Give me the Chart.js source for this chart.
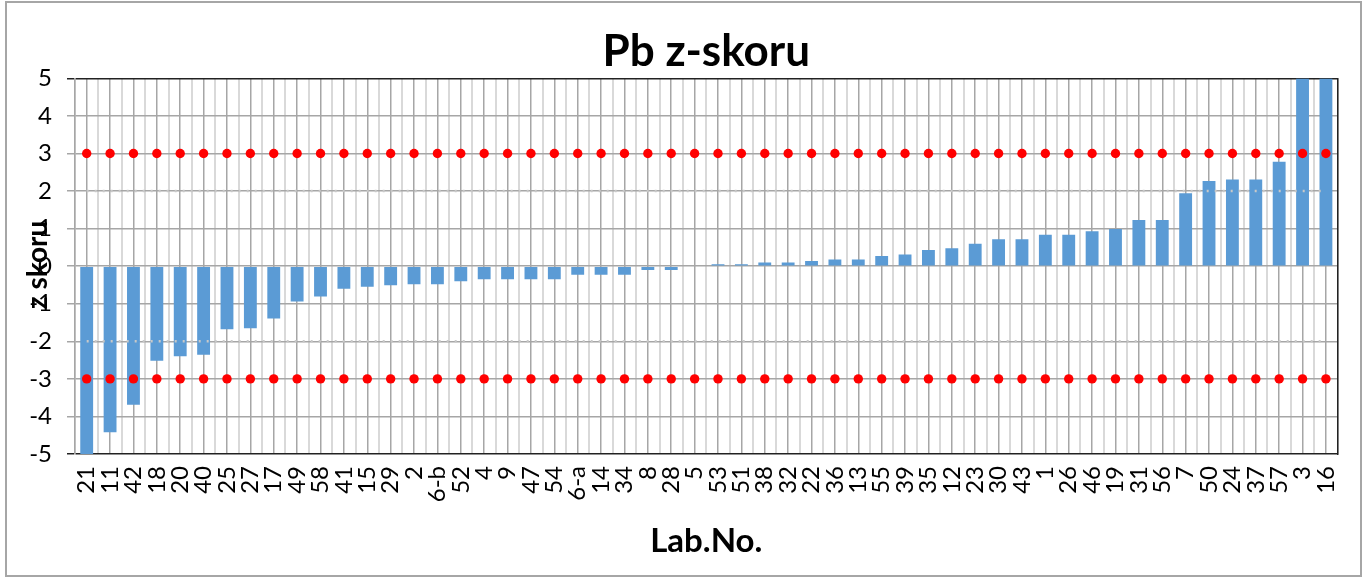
<!DOCTYPE html>
<html>
<head>
<meta charset="utf-8">
<script src="https://cdn.jsdelivr.net/npm/chart.js@4/dist/chart.umd.min.js"></script>
<style>
  html, body { margin: 0; padding: 0; background: #fff; }
  #wrap { position: relative; width: 1367px; height: 582px; }
</style>
</head>
<body>
<div id="wrap"><canvas id="grafico"></canvas></div>
<script>
// laboratuvar numaralari (sirali)
const labNo = ["21","11","42","18","20","40","25","27","17","49","58","41","15","29","2","6-b","52","4","9","47",
  "54","6-a","14","34","8","28","5","53","51","38","32","22","36","13","55","39","35","12","23","30",
  "43","1","26","46","19","31","56","7","50","24","37","57","3","16"];

// Pb z-skoru degerleri
const zSkor = [-5, -4.42, -3.69, -2.52, -2.4, -2.36, -1.68, -1.65, -1.39, -0.94, -0.81, -0.6, -0.55, -0.51, -0.48, -0.48, -0.4, -0.35, -0.35, -0.35,
  -0.35, -0.23, -0.23, -0.23, -0.1, -0.1, 0, 0.05, 0.05, 0.1, 0.1, 0.14, 0.18, 0.18, 0.27, 0.31, 0.43, 0.48, 0.6, 0.72,
  0.72, 0.84, 0.84, 0.93, 0.99, 1.23, 1.23, 1.94, 2.27, 2.31, 2.31, 2.78, 5, 5];

// limitler
const eylemSiniri = [3, -3];
const uyariSiniri = [2, -2];

// eksen
const yMin = -5;
const yMax = 5;

const yazi = "Lato, 'Open Sans', sans-serif";

const limitLine = (v) => labNo.map(() => v);

// y ekseni basligi ve cerceve
const ekstra = {
  id: "ekstra",
  afterDraw(chart) {
    const ctx = chart.ctx;
    ctx.save();
    ctx.strokeStyle = "#a6a6a6";
    ctx.lineWidth = 2;
    ctx.strokeRect(6, 2, 1355, 574);
    ctx.translate(38, 265);
    ctx.rotate(-Math.PI / 2);
    ctx.fillStyle = "#000";
    ctx.font = "bold 28px " + yazi;
    ctx.textAlign = "center";
    ctx.textBaseline = "middle";
    ctx.fillText("z skoru", 0, 0);
    ctx.restore();
  }
};

new Chart(document.getElementById("grafico"), {
  type: "bar",
  data: {
    labels: labNo,
    datasets: [
      {
        label: "z skoru",
        data: zSkor,
        backgroundColor: "#5b9bd5",
        barPercentage: 0.55,
        categoryPercentage: 1,
        order: 3
      },
      {
        type: "line", label: "+3", data: limitLine(eylemSiniri[0]),
        showLine: false, pointRadius: 4.7, pointBackgroundColor: "#ff0000", pointBorderWidth: 0, order: 1
      },
      {
        type: "line", label: "-3", data: limitLine(eylemSiniri[1]),
        showLine: false, pointRadius: 4.7, pointBackgroundColor: "#ff0000", pointBorderWidth: 0, order: 1
      },
      {
        type: "line", label: "+2", data: limitLine(uyariSiniri[0]),
        borderColor: "#c8c8c8", borderWidth: 2.5, borderDash: [2, 6], pointRadius: 0, order: 2
      },
      {
        type: "line", label: "-2", data: limitLine(uyariSiniri[1]),
        borderColor: "#c8c8c8", borderWidth: 2.5, borderDash: [2, 6], pointRadius: 0, order: 2
      }
    ]
  },
  options: {
    responsive: true,
    maintainAspectRatio: false,
    animation: false,
    layout: { padding: { left: 8, right: 12, top: 0, bottom: 0 } },
    plugins: {
      legend: { display: false },
      tooltip: { enabled: false },
      title: {
        display: true,
        fullSize: false,
        text: "Pb z-skoru",
        color: "#000",
        font: { family: yazi, size: 44, weight: "bold", lineHeight: 1.1 },
        padding: { top: 28, bottom: 2 }
      }
    },
    scales: {
      x: {
        offset: true,
        grid: { offset: true, color: "#d9d9d9", lineWidth: 2, drawTicks: false },
        border: { display: false },
        ticks: {
          autoSkip: false, minRotation: 90, maxRotation: 90, padding: 12,
          color: "#000", font: { family: yazi, size: 24 }
        },
        title: {
          display: true, text: "Lab.No.", color: "#000",
          font: { family: yazi, size: 33, weight: "bold", lineHeight: 1.2 },
          padding: { top: 0, bottom: 21 }
        },
        afterFit: (s) => { s.height = 128; }
      },
      xc: {
        type: "category",
        position: "bottom",
        offset: true,
        grid: { offset: false, color: "#a6a6a6", lineWidth: 1.5, drawTicks: false },
        border: { display: false },
        ticks: { display: false },
        afterFit: (s) => { s.height = 0; }
      },
      y: {
        min: yMin,
        max: yMax,
        ticks: { stepSize: 1, padding: 15, color: "#000", font: { family: yazi, size: 24 } },
        grid: {
          color: (c) => (c.tick && (c.tick.value === yMax || c.tick.value === yMin)) ? "#222" : "#a6a6a6",
          lineWidth: 1.5,
          tickLength: 8
        },
        border: { color: "#a6a6a6", width: 1.5 },
        afterFit: (s) => { s.width = 67; }
      },
      yr: {
        position: "right",
        min: yMin,
        max: yMax,
        ticks: { display: false },
        grid: { drawOnChartArea: false, drawTicks: false },
        border: { color: "#222", width: 1.5 },
        afterFit: (s) => { s.width = 1; }
      }
    }
  },
  plugins: [ekstra]
});
</script>
</body>
</html>
